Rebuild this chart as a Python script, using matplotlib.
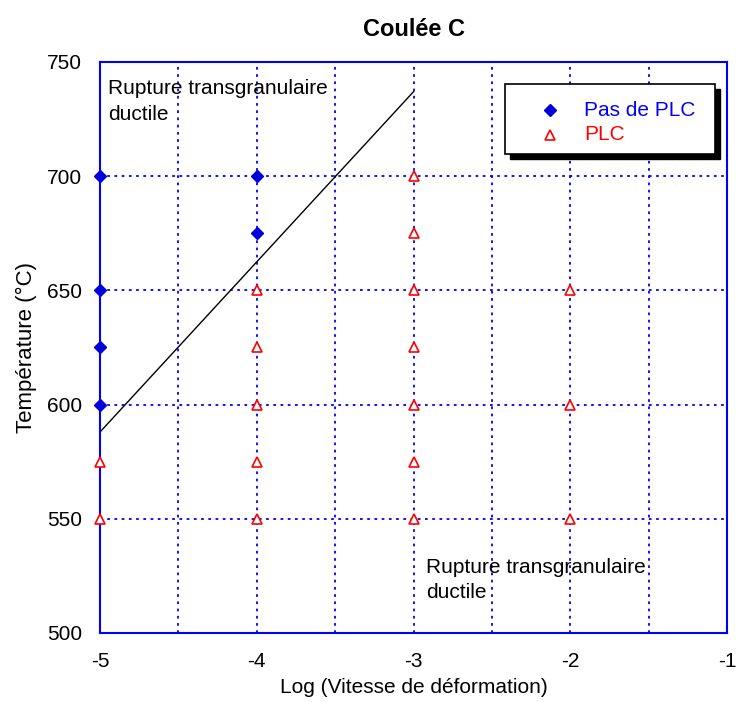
# Coulée C : PLC / pas de PLC selon vitesse de déformation et température

import matplotlib.pyplot as plt
from matplotlib.patches import Rectangle

## data
pas_plc_x = [-5, -5, -5, -5, -4, -4]
pas_plc_y = [700, 650, 625, 600, 700, 675]
plc_x = [-5, -5, -4, -4, -4, -4, -4, -3, -3, -3, -3, -3, -3, -3, -2, -2, -2]
plc_y = [575, 550, 650, 625, 600, 575, 550, 700, 675, 650, 625, 600, 575, 550, 650, 600, 550]
limite_x = [-5, -3]
limite_y = [588, 737]
x_ticks = [-5, -4, -3, -2, -1]
y_ticks = [500, 550, 600, 650, 700, 750]

bleu = '#0000ff'
rouge = '#ff0000'

plt.rcParams['font.family'] = ['Liberation Sans', 'DejaVu Sans']
plt.rcParams['axes.unicode_minus'] = False

fig = plt.figure(figsize=(7.36, 7.02), dpi=100)
ax = fig.add_axes([0.1359, 0.0983, 0.8519, 0.8134])

ax.set_xlim(-5, -1)
ax.set_ylim(500, 750)
ax.set_xticks(x_ticks)
ax.set_yticks(y_ticks)
ax.set_xticks([-4.5, -3.5, -2.5, -1.5], minor=True)
ax.grid(True, which='both', color=bleu, linestyle=(0, (1.5, 2.5)), linewidth=1.3)
ax.tick_params(which='both', length=0, labelsize=15)
ax.tick_params(axis='x', pad=14)
ax.tick_params(axis='y', pad=13)
for s in ax.spines.values():
    s.set_color(bleu)
    s.set_linewidth(1.5)

ax.plot(limite_x, limite_y, color='black', linewidth=1)
ax.plot(pas_plc_x, pas_plc_y, linestyle='none', marker='D', markersize=6,
        color='#0000dd', clip_on=False, zorder=5)
ax.plot(plc_x, plc_y, linestyle='none', marker='^', markersize=7,
        markerfacecolor='white', markeredgecolor=rouge, markeredgewidth=1.2,
        clip_on=False, zorder=5)

ax.text(-4.95, 742.5, 'Rupture transgranulaire\nductile', fontsize=15, va='top', ha='left',
        linespacing=1.45)
ax.text(-2.92, 533, 'Rupture transgranulaire\nductile', fontsize=15, va='top', ha='left',
        linespacing=1.45)

ax.set_title('Coulée C', fontsize=17, fontweight='bold', pad=19)
ax.set_xlabel('Log (Vitesse de déformation)', fontsize=15, labelpad=5)
ax.set_ylabel('Température (°C)', fontsize=16, labelpad=7)

# legende avec ombre, coordonnees en pixels (origine en bas)
ombre = Rectangle((510, 702 - 84 - 70 - 5), 210, 70, transform=None,
                  facecolor='black', edgecolor='black', zorder=8)
boite = Rectangle((505, 702 - 84 - 70), 210, 70, transform=None,
                  facecolor='white', edgecolor='black', linewidth=1.2, zorder=9)
fig.patches.extend([ombre, boite])
fig.lines.append(plt.Line2D([550 / 736], [1 - 110 / 702], transform=fig.transFigure,
                            marker='D', markersize=6, color='#0000dd', zorder=10))
fig.lines.append(plt.Line2D([550 / 736], [1 - 135 / 702], transform=fig.transFigure,
                            marker='^', markersize=7, markerfacecolor='white',
                            markeredgecolor=rouge, markeredgewidth=1.2, zorder=10))
fig.text(584 / 736, 1 - 110 / 702, 'Pas de PLC', color=bleu, fontsize=15, va='center', zorder=10)
fig.text(584 / 736, 1 - 135 / 702, 'PLC', color=rouge, fontsize=15, va='center', zorder=10)

fig.savefig('out.png', dpi=100)
